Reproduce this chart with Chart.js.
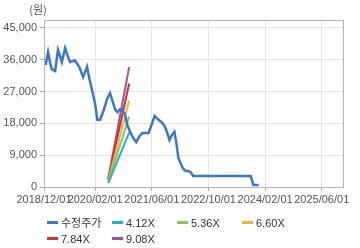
<!DOCTYPE html>
<html><head><meta charset="utf-8">
<script src="https://cdn.jsdelivr.net/npm/chart.js@4.4.1/dist/chart.umd.min.js"></script>
<style>
html,body{margin:0;padding:0;background:#fff;}
#wrap{position:relative;width:360px;height:248px;overflow:hidden;}
#c{position:absolute;left:0;top:0;}
#legend{position:absolute;left:0;top:0;width:360px;height:248px;pointer-events:none;font-family:"Liberation Sans","Noto Sans CJK KR",sans-serif;font-size:11px;color:#333;}
.li{position:absolute;height:14px;line-height:14px;white-space:nowrap;}
.li i{display:inline-block;width:11px;height:3px;vertical-align:middle;margin-right:3px;position:relative;top:-1px;}
.li span{vertical-align:middle;}
</style></head><body>
<div id="wrap"><canvas id="c" width="360" height="210"></canvas><div id="legend"></div></div>
<script>
// ---- data (x = months since 2018/12/01) ----
const priceMonths = [0,0.7,1.3,1.8,2.7,3.5,4.1,4.6,5.5,6.2,6.9,8.3,9.5,10.6,11.7,12.4,13.1,14.0,14.6,15.4,16.5,17.4,18.2,19.0,19.7,20.3,21.0,21.6,22.4,23.1,24.0,24.8,25.6,26.5,27.3,29.1,29.9,30.8,31.9,32.7,33.6,34.3,35.0,35.7,36.4,37.0,37.5,38.6,39.3,40.0,40.9,41.7,57.9,58.7,60.2];
const priceValues = [34500,38200,35000,33300,32800,38800,37000,35400,39300,37200,35400,35800,34000,31100,34000,30500,27500,23500,19000,19000,22000,25000,26600,24000,21800,21200,22000,22000,20500,17500,15300,13800,12700,14300,15300,15300,17500,20100,19000,18400,17300,15500,13300,14800,15600,12000,8300,5600,4700,4500,4300,3100,3100,600,600];
const bandMonths = [17.7, 23.6];
const band412 = [1100, 15400];
const band536 = [1450, 19900];
const band660 = [1800, 24400];
const band784 = [2100, 29300];
const band908 = [2450, 33900];
const seriesNames = ['수정주가','4.12X','5.36X','6.60X','7.84X','9.08X'];
const seriesColors = ['#3b77c8','#1fb3c3','#8fc05a','#f3b23c','#d12f3a','#9b52a8'];
const xTickMonths = [-0.45, 14, 30, 46, 62, 78];
const xTickLabels = ['2018/12/01','2020/02/01','2021/06/01','2022/10/01','2024/02/01','2025/06/01'];
const yTickValues = [0, 9000, 18000, 27000, 36000, 45000];
const yUnit = '(원)';

const pts = (xs, ys) => xs.map((x, i) => ({x: x, y: ys[i]}));
const bandSeries = [band412, band536, band660, band784, band908];
const datasets = [{
  label: seriesNames[0], data: pts(priceMonths, priceValues),
  borderColor: seriesColors[0], borderWidth: 2.5, pointRadius: 0, tension: 0, fill: false
}];
bandSeries.forEach((b, i) => datasets.push({
  label: seriesNames[i+1], data: pts(bandMonths, b),
  borderColor: seriesColors[i+1], borderWidth: 2, pointRadius: 0, tension: 0, fill: false
}));

const tickFont = {family: '"Liberation Sans", "DejaVu Sans", sans-serif', size: 11};
const framePlugin = {
  id: 'frame',
  afterDraw(chart) {
    const {ctx, chartArea: a} = chart;
    ctx.save();
    ctx.strokeStyle = '#b4b4b4'; ctx.lineWidth = 1;
    ctx.strokeRect(Math.round(a.left)+0.5, Math.round(a.top)+0.5, Math.round(a.right - a.left), Math.round(a.bottom - a.top));
    ctx.fillStyle = '#555';
    ctx.font = '11px "Noto Sans CJK KR", sans-serif';
    ctx.textAlign = 'center'; ctx.textBaseline = 'middle';
    ctx.fillText(yUnit, 38, 10);
    ctx.restore();
  }
};

new Chart(document.getElementById('c'), {
  type: 'line',
  data: {datasets},
  options: {
    responsive: false, animation: false, devicePixelRatio: 1,
    layout: {padding: {left: 0, right: 17, top: 20, bottom: 0}},
    plugins: {legend: {display: false}, tooltip: {enabled: false}},
    scales: {
      x: {
        type: 'linear', min: -0.45, max: 84,
        afterBuildTicks: s => { s.ticks = xTickMonths.map(v => ({value: v})); },
        afterFit: s => { s.height = 23; },
        ticks: {autoSkip: false, maxRotation: 0, color: '#555', font: tickFont, padding: 2,
          callback: (v, i) => xTickLabels[i]},
        grid: {color: '#e6e6e6', tickColor: '#aaa', tickLength: 4},
        border: {color: '#b4b4b4'}
      },
      y: {
        min: 0, max: 47250,
        afterBuildTicks: s => { s.ticks = yTickValues.map(v => ({value: v})); },
        afterFit: s => { s.width = 44; },
        ticks: {color: '#555', font: tickFont, padding: 3,
          callback: v => v.toLocaleString('en-US')},
        grid: {color: '#e6e6e6', tickColor: '#aaa', tickLength: 4},
        border: {color: '#b4b4b4'}
      }
    }
  },
  plugins: [framePlugin]
});

// HTML legend
const legendPos = [[47,215],[112,215],[177,215],[242,215],[47,231],[112,231]];
const lg = document.getElementById('legend');
seriesNames.forEach((n, i) => {
  const d = document.createElement('div');
  d.className = 'li';
  d.style.left = legendPos[i][0] + 'px';
  d.style.top = legendPos[i][1] + 'px';
  d.innerHTML = '<i style="background:' + seriesColors[i] + '"></i><span>' + n + '</span>';
  lg.appendChild(d);
});
</script>
</body></html>
